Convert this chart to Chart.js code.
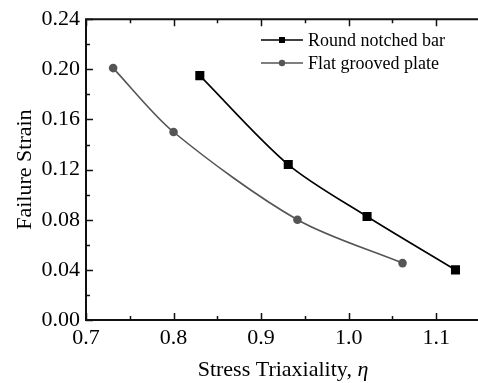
<!DOCTYPE html>
<html>
<head>
<meta charset="utf-8">
<script src="https://cdn.jsdelivr.net/npm/chart.js@4"></script>
<style>
  html, body { margin: 0; padding: 0; background: #fff; overflow: hidden; }
  #wrap { width: 490px; height: 383px; }
</style>
</head>
<body>
<div id="wrap"><canvas id="chart" width="490" height="383"></canvas></div>
<script>
// Data
const roundX = [0.83, 0.931, 1.021, 1.122];
const roundY = [0.195, 0.124, 0.0826, 0.040];
const flatX = [0.731, 0.800, 0.9415, 1.0615];
const flatY = [0.201, 0.150, 0.080, 0.0454];

const xTicks = [0.7, 0.8, 0.9, 1.0, 1.1];
const xMinor = [0.75, 0.85, 0.95, 1.05, 1.15];
const yTicks = [0.00, 0.04, 0.08, 0.12, 0.16, 0.20, 0.24];
const yMinor = [0.02, 0.06, 0.10, 0.14, 0.18, 0.22];

const serif = "'Liberation Serif', 'Times New Roman', serif";

function toPoints(xs, ys) {
  return xs.map((x, i) => ({ x: x, y: ys[i] }));
}

// Frame, inward ticks, legend and x title
const framePlugin = {
  id: "frame",
  afterDatasetsDraw(chart) {
    const ctx = chart.ctx;
    const a = chart.chartArea;
    const xs = chart.scales.x;
    const ys = chart.scales.y;
    ctx.save();
    ctx.strokeStyle = "#111";
    ctx.lineWidth = 2;
    // left, bottom and top lines (right side is cut off in the figure)
    ctx.beginPath();
    ctx.moveTo(a.left, a.top); ctx.lineTo(chart.width, a.top);
    ctx.moveTo(a.left, a.top - 1); ctx.lineTo(a.left, a.bottom);
    ctx.moveTo(a.left - 1, a.bottom); ctx.lineTo(chart.width, a.bottom);
    ctx.stroke();

    ctx.lineWidth = 1.5;
    ctx.beginPath();
    xTicks.concat(xMinor).forEach(v => {
      const len = xTicks.includes(v) ? 7 : 4;
      const px = Math.round(xs.getPixelForValue(v)) + 0.5;
      ctx.moveTo(px, a.bottom); ctx.lineTo(px, a.bottom - len);
      ctx.moveTo(px, a.top); ctx.lineTo(px, a.top + len);
    });
    yTicks.concat(yMinor).forEach(v => {
      const len = yTicks.includes(v) ? 7 : 4;
      const py = Math.round(ys.getPixelForValue(v)) + 0.5;
      ctx.moveTo(a.left, py); ctx.lineTo(a.left + len, py);
    });
    ctx.stroke();

    // legend
    ctx.font = "18px " + serif;
    ctx.textBaseline = "middle";
    ctx.textAlign = "left";
    chart.data.datasets.forEach((ds, i) => {
      const y = 40 + i * 23;
      const x0 = 261, x1 = 303, xm = (x0 + x1) / 2;
      ctx.strokeStyle = ds.borderColor;
      ctx.lineWidth = 1.5;
      ctx.beginPath();
      ctx.moveTo(x0, y); ctx.lineTo(x1, y);
      ctx.stroke();
      ctx.fillStyle = ds.pointBackgroundColor;
      if (ds.pointStyle === "rect") {
        ctx.fillRect(xm - 3, y - 3, 6, 6);
      } else {
        ctx.beginPath();
        ctx.arc(xm, y, 3.2, 0, Math.PI * 2);
        ctx.fill();
      }
      ctx.fillStyle = "#000";
      ctx.fillText(ds.label, 308, y + 1);
    });

    // x axis title with italic eta
    const t1 = "Stress Triaxiality, ";
    const t2 = "\u03B7";
    ctx.font = "22px " + serif;
    const w1 = ctx.measureText(t1).width;
    ctx.font = "italic 22px " + serif;
    const w2 = ctx.measureText(t2).width;
    const cx = (a.left + a.right) / 2;
    let sx = cx - (w1 + w2) / 2;
    ctx.fillStyle = "#000";
    ctx.textBaseline = "middle";
    ctx.font = "22px " + serif;
    ctx.fillText(t1, sx, 370);
    ctx.font = "italic 22px " + serif;
    ctx.fillText(t2, sx + w1, 370);
    ctx.restore();
  }
};

new Chart(document.getElementById("chart"), {
  type: "scatter",
  data: {
    datasets: [
      {
        label: "Round notched bar",
        data: toPoints(roundX, roundY),
        showLine: true,
        tension: 0.3,
        borderColor: "#000",
        borderWidth: 1.6,
        pointStyle: "rect",
        pointRadius: 6.4,
        pointBackgroundColor: "#000",
        pointBorderWidth: 0
      },
      {
        label: "Flat grooved plate",
        data: toPoints(flatX, flatY),
        showLine: true,
        tension: 0.3,
        borderColor: "#555",
        borderWidth: 1.6,
        pointStyle: "circle",
        pointRadius: 4.3,
        pointBackgroundColor: "#555",
        pointBorderWidth: 0
      }
    ]
  },
  options: {
    responsive: false,
    animation: false,
    layout: { padding: { left: 0, top: 17, right: 10, bottom: 0 } },
    plugins: {
      legend: { display: false },
      tooltip: { enabled: false }
    },
    scales: {
      x: {
        type: "linear",
        min: 0.7,
        max: 1.15,
        afterBuildTicks: s => { s.ticks = xTicks.map(v => ({ value: v })); },
        afterFit: s => { s.height = 63; },
        grid: { display: false, drawTicks: false },
        border: { display: false },
        ticks: {
          padding: 5,
          color: "#000",
          font: { family: serif, size: 22 },
          maxRotation: 0,
          callback: v => Number(v).toFixed(1)
        }
      },
      y: {
        type: "linear",
        min: 0,
        max: 0.24,
        afterBuildTicks: s => { s.ticks = yTicks.map(v => ({ value: v })); },
        afterFit: s => { s.width = 86; },
        grid: { display: false, drawTicks: false },
        border: { display: false },
        ticks: {
          padding: 6,
          color: "#000",
          font: { family: serif, size: 22 },
          callback: v => Number(v).toFixed(2)
        },
        title: {
          display: true,
          text: "Failure Strain",
          color: "#000",
          font: { family: serif, size: 22 },
          padding: { top: 12, bottom: 0 }
        }
      }
    }
  },
  plugins: [framePlugin]
});
</script>
</body>
</html>
